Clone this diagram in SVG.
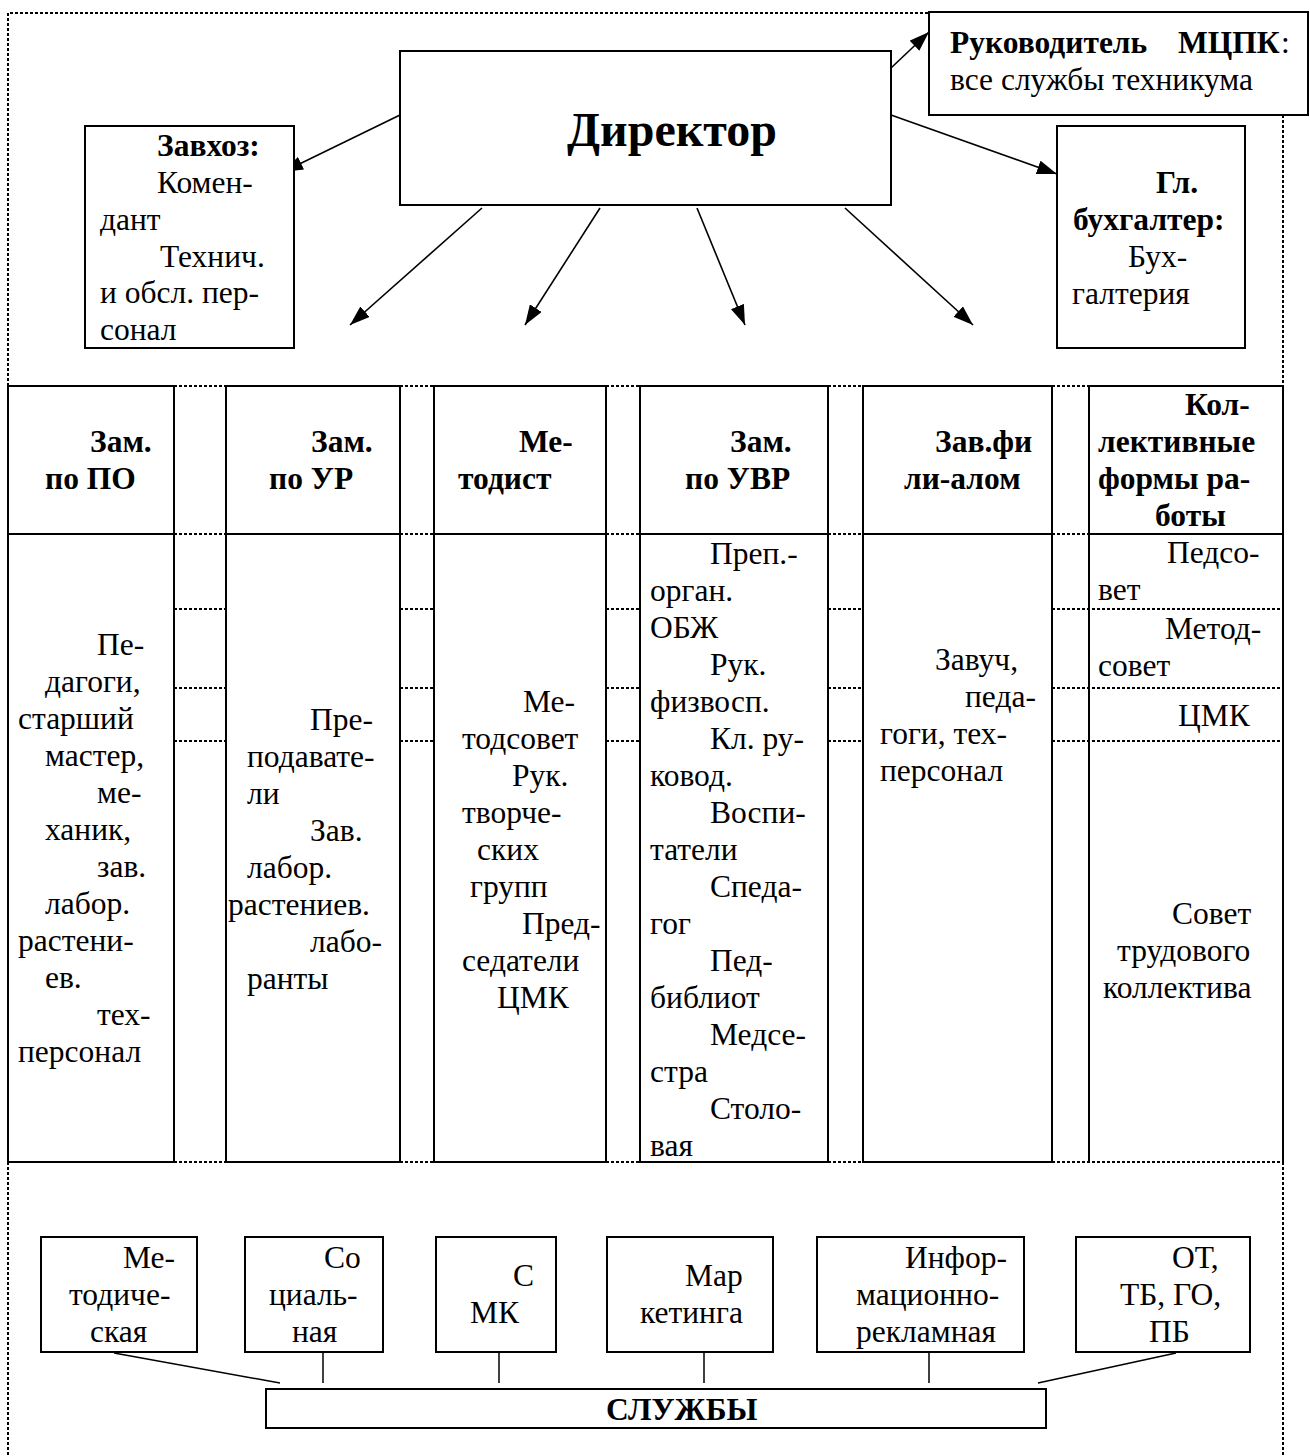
<svg xmlns="http://www.w3.org/2000/svg" width="1310" height="1456" viewBox="0 0 1310 1456">
<style>
.t{font-family:"Liberation Serif","Times New Roman",serif;font-size:31.5px;fill:#000}
.b{font-weight:bold}
.box{fill:#fff;stroke:#000;stroke-width:2}
.sol{fill:none;stroke:#000;stroke-width:2}
.dot{fill:none;stroke:#000;stroke-width:2;stroke-dasharray:3 2}
.arr{fill:none;stroke:#000;stroke-width:1.6}
.ln{fill:none;stroke:#000;stroke-width:1.5}
</style>
<defs>
<marker id="ah" markerUnits="userSpaceOnUse" markerWidth="20" markerHeight="14" refX="20" refY="7" orient="auto">
<path d="M0,0 L20,7 L0,14 Z" fill="#000"/>
</marker>
</defs>
<rect width="1310" height="1456" fill="#fff"/>

<g id="frame">
<path class="dot" d="M8,386 V13 H929"/>
<path class="dot" d="M8,1162 V1456"/>
<path class="dot" d="M1283,115 V386"/>
<path class="dot" d="M1283,1162 V1456"/>
<path class="dot" d="M174,386 H226 M400,386 H434 M606,386 H640 M828,386 H863 M1052,386 H1089"/>
<path class="dot" d="M174,534 H226 M400,534 H434 M606,534 H640 M828,534 H863 M1052,534 H1089"/>
<path class="dot" d="M174,609 H226 M400,609 H434 M606,609 H640 M828,609 H863 M1052,609 H1283"/>
<path class="dot" d="M174,688 H226 M400,688 H434 M606,688 H640 M828,688 H863 M1052,688 H1283"/>
<path class="dot" d="M174,741 H226 M400,741 H434 M606,741 H640 M828,741 H863 M1052,741 H1283"/>
<path class="dot" d="M174,1162 H226 M400,1162 H434 M606,1162 H640 M828,1162 H863 M1052,1162 H1283"/>
</g>

<g id="connectors">
<line class="arr" x1="400" y1="115" x2="283" y2="172" marker-end="url(#ah)"/>
<line class="arr" x1="891" y1="68" x2="929" y2="32" marker-end="url(#ah)"/>
<line class="arr" x1="891" y1="115" x2="1057" y2="174" marker-end="url(#ah)"/>
<line class="arr" x1="482" y1="208" x2="350" y2="325" marker-end="url(#ah)"/>
<line class="arr" x1="600" y1="208" x2="525" y2="325" marker-end="url(#ah)"/>
<line class="arr" x1="697" y1="208" x2="745" y2="325" marker-end="url(#ah)"/>
<line class="arr" x1="845" y1="208" x2="973" y2="325" marker-end="url(#ah)"/>
<line class="ln" x1="114" y1="1353" x2="280" y2="1383"/>
<line class="ln" x1="323" y1="1353" x2="323" y2="1383"/>
<line class="ln" x1="499" y1="1353" x2="499" y2="1383"/>
<line class="ln" x1="704" y1="1353" x2="704" y2="1383"/>
<line class="ln" x1="929" y1="1353" x2="929" y2="1383"/>
<line class="ln" x1="1176" y1="1353" x2="1038" y2="1383"/>
</g>

<g id="director">
<rect class="box" x="400" y="51" width="491" height="154"/>
<text class="t b" x="567" y="146" style="font-size:48px">Директор</text>
</g>

<g id="mcpk">
<rect class="box" x="929" y="12" width="379" height="103"/>
<text class="t" y="53"><tspan class="b" x="950">Руководитель</tspan><tspan class="b" x="1178">МЦПК</tspan><tspan x="1281">:</tspan></text>
<text class="t" x="950" y="90">все службы техникума</text>
</g>

<g id="zavhoz">
<rect class="box" x="85" y="126" width="209" height="222"/>
<text class="t b" x="157" y="156">Завхоз:</text>
<text class="t" x="157" y="193">Комен-</text>
<text class="t" x="100" y="230">дант</text>
<text class="t" x="160" y="267">Технич.</text>
<text class="t" x="100" y="303">и обсл. пер-</text>
<text class="t" x="100" y="340">сонал</text>
</g>

<g id="buh">
<rect class="box" x="1057" y="126" width="188" height="222"/>
<text class="t b" x="1156" y="193">Гл.</text>
<text class="t b" x="1073" y="230">бухгалтер:</text>
<text class="t" x="1128" y="267">Бух-</text>
<text class="t" x="1072" y="304">галтерия</text>
</g>

<g id="col-po">
<rect class="sol" x="8" y="386" width="166" height="148"/>
<rect class="sol" x="8" y="534" width="166" height="628"/>
<text class="t b" x="90" y="452">Зам.</text>
<text class="t b" x="45" y="489">по ПО</text>
<text class="t" x="97" y="655">Пе-</text>
<text class="t" x="45" y="692">дагоги,</text>
<text class="t" x="18" y="729">старший</text>
<text class="t" x="45" y="766">мастер,</text>
<text class="t" x="97" y="803">ме-</text>
<text class="t" x="45" y="840">ханик,</text>
<text class="t" x="97" y="877">зав.</text>
<text class="t" x="45" y="914">лабор.</text>
<text class="t" x="18" y="951">растени-</text>
<text class="t" x="45" y="988">ев.</text>
<text class="t" x="97" y="1025">тех-</text>
<text class="t" x="18" y="1062">персонал</text>
</g>

<g id="col-ur">
<rect class="sol" x="226" y="386" width="174" height="148"/>
<rect class="sol" x="226" y="534" width="174" height="628"/>
<text class="t b" x="311" y="452">Зам.</text>
<text class="t b" x="269" y="489">по УР</text>
<text class="t" x="310" y="730">Пре-</text>
<text class="t" x="247" y="767">подавате-</text>
<text class="t" x="247" y="804">ли</text>
<text class="t" x="310" y="841">Зав.</text>
<text class="t" x="247" y="878">лабор.</text>
<text class="t" x="228" y="915">растениев.</text>
<text class="t" x="310" y="952">лабо-</text>
<text class="t" x="247" y="989">ранты</text>
</g>

<g id="col-metodist">
<rect class="sol" x="434" y="386" width="172" height="148"/>
<rect class="sol" x="434" y="534" width="172" height="628"/>
<text class="t b" x="519" y="452">Ме-</text>
<text class="t b" x="458" y="489">тодист</text>
<text class="t" x="523" y="712">Ме-</text>
<text class="t" x="462" y="749">тодсовет</text>
<text class="t" x="512" y="786">Рук.</text>
<text class="t" x="462" y="823">творче-</text>
<text class="t" x="477" y="860">ских</text>
<text class="t" x="470" y="897">групп</text>
<text class="t" x="522" y="934">Пред-</text>
<text class="t" x="462" y="971">седатели</text>
<text class="t" x="497" y="1008">ЦМК</text>
</g>

<g id="col-uvr">
<rect class="sol" x="640" y="386" width="188" height="148"/>
<rect class="sol" x="640" y="534" width="188" height="628"/>
<text class="t b" x="730" y="452">Зам.</text>
<text class="t b" x="685" y="489">по УВР</text>
<text class="t" x="710" y="564">Преп.-</text>
<text class="t" x="650" y="601">орган.</text>
<text class="t" x="650" y="638">ОБЖ</text>
<text class="t" x="710" y="675">Рук.</text>
<text class="t" x="650" y="712">физвосп.</text>
<text class="t" x="710" y="749">Кл. ру-</text>
<text class="t" x="650" y="786">ковод.</text>
<text class="t" x="710" y="823">Воспи-</text>
<text class="t" x="650" y="860">татели</text>
<text class="t" x="710" y="897">Спеда-</text>
<text class="t" x="650" y="934">гог</text>
<text class="t" x="710" y="971">Пед-</text>
<text class="t" x="650" y="1008">библиот</text>
<text class="t" x="710" y="1045">Медсе-</text>
<text class="t" x="650" y="1082">стра</text>
<text class="t" x="710" y="1119">Столо-</text>
<text class="t" x="650" y="1156">вая</text>
</g>

<g id="col-filial">
<rect class="sol" x="863" y="386" width="189" height="148"/>
<rect class="sol" x="863" y="534" width="189" height="628"/>
<text class="t b" x="935" y="452">Зав.фи</text>
<text class="t b" x="904" y="489">ли-алом</text>
<text class="t" x="935" y="670">Завуч,</text>
<text class="t" x="965" y="707">педа-</text>
<text class="t" x="880" y="744">гоги, тех-</text>
<text class="t" x="880" y="781">персонал</text>
</g>

<g id="col-kollekt">
<rect class="sol" x="1089" y="386" width="194" height="148"/>
<path class="sol" d="M1089,534 V1162 M1283,534 V1162"/>
<text class="t b" x="1185" y="415">Кол-</text>
<text class="t b" x="1098" y="452">лективные</text>
<text class="t b" x="1098" y="489">формы ра-</text>
<text class="t b" x="1155" y="526">боты</text>
<text class="t" x="1167" y="563">Педсо-</text>
<text class="t" x="1098" y="600">вет</text>
<text class="t" x="1165" y="639">Метод-</text>
<text class="t" x="1098" y="676">совет</text>
<text class="t" x="1178" y="726">ЦМК</text>
<text class="t" x="1172" y="924">Совет</text>
<text class="t" x="1117" y="961">трудового</text>
<text class="t" x="1103" y="998">коллектива</text>
</g>

<g id="s-metod">
<rect class="box" x="41" y="1237" width="156" height="115"/>
<text class="t" x="123" y="1268">Ме-</text>
<text class="t" x="69" y="1305">тодиче-</text>
<text class="t" x="90" y="1342">ская</text>
</g>
<g id="s-social">
<rect class="box" x="245" y="1237" width="138" height="115"/>
<text class="t" x="324" y="1268">Со</text>
<text class="t" x="269" y="1305">циаль-</text>
<text class="t" x="292" y="1342">ная</text>
</g>
<g id="s-smk">
<rect class="box" x="436" y="1237" width="120" height="115"/>
<text class="t" x="513" y="1286">С</text>
<text class="t" x="470" y="1323">МК</text>
</g>
<g id="s-market">
<rect class="box" x="607" y="1237" width="166" height="115"/>
<text class="t" x="685" y="1286">Мар</text>
<text class="t" x="640" y="1323">кетинга</text>
</g>
<g id="s-info">
<rect class="box" x="817" y="1237" width="207" height="115"/>
<text class="t" x="905" y="1268">Инфор-</text>
<text class="t" x="856" y="1305">мационно-</text>
<text class="t" x="856" y="1342">рекламная</text>
</g>
<g id="s-ot">
<rect class="box" x="1076" y="1237" width="174" height="115"/>
<text class="t" x="1172" y="1268">ОТ,</text>
<text class="t" x="1120" y="1305">ТБ, ГО,</text>
<text class="t" x="1149" y="1342">ПБ</text>
</g>
<g id="sluzhby">
<rect class="box" x="266" y="1389" width="780" height="39"/>
<text class="t b" x="606" y="1420">СЛУЖБЫ</text>
</g>
</svg>
